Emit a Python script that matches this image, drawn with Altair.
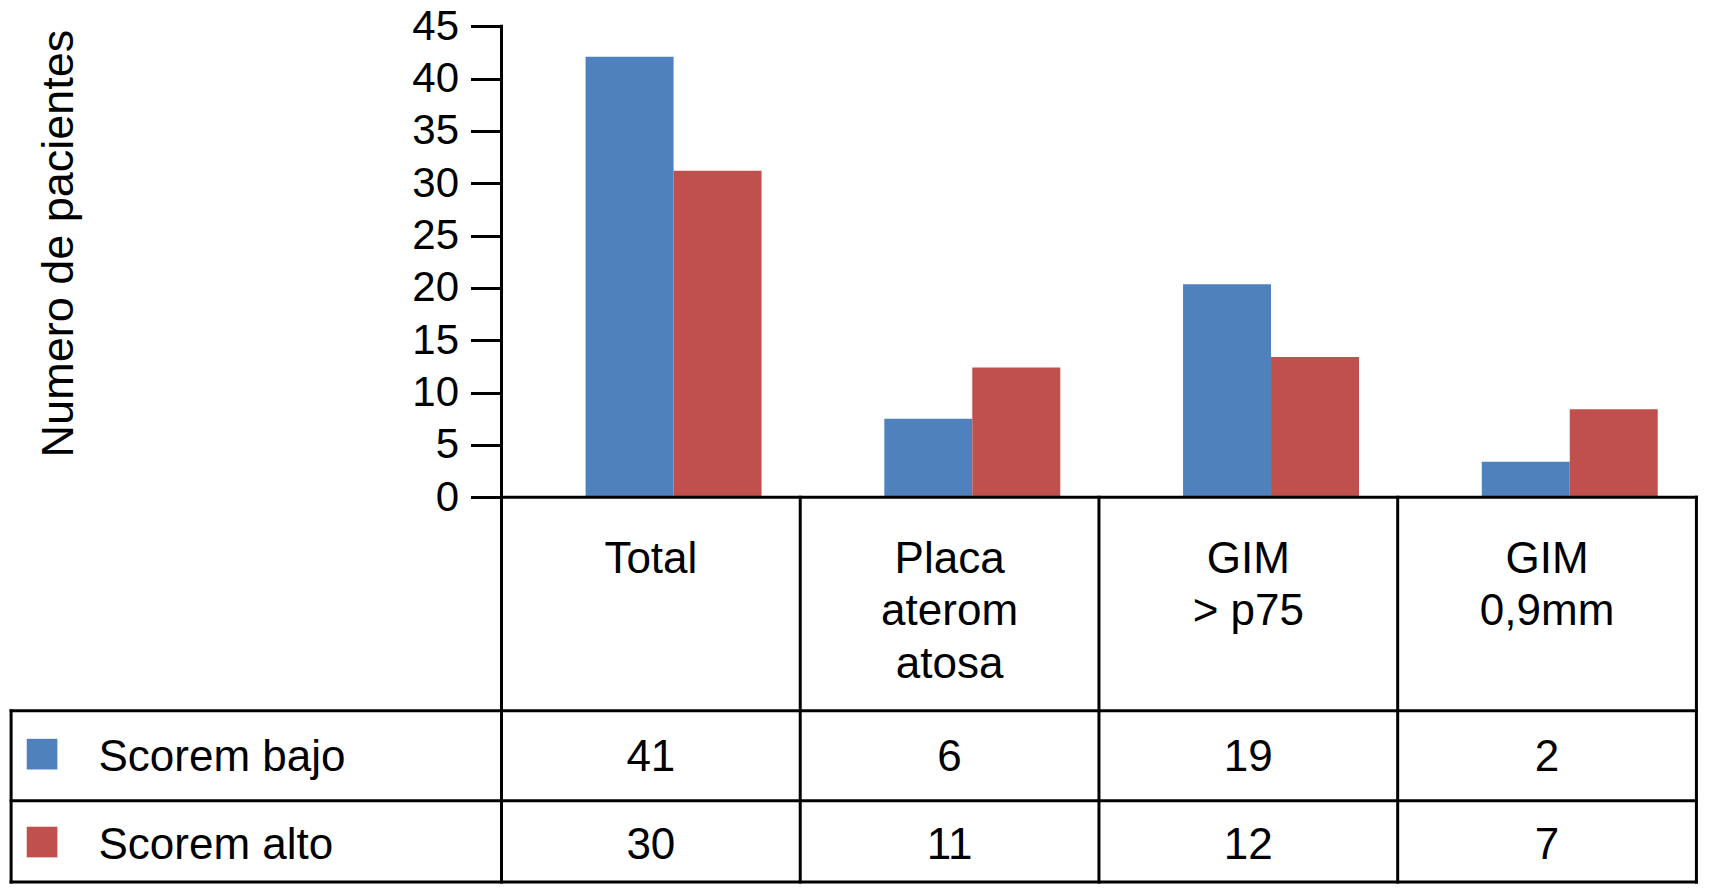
import altair as alt
import pandas as pd

# ---------------- data ----------------
CATEGORY_LINES = [["Total"], ["Placa", "aterom", "atosa"], ["GIM", "> p75"], ["GIM", "0,9mm"]]
SERIES = ["Scorem bajo", "Scorem alto"]
COLORS = ["#4F81BD", "#C0504D"]
BAR_BAJO = [42.1, 7.5, 20.35, 3.4]      # bar heights as drawn
BAR_ALTO = [31.2, 12.4, 13.4, 8.4]
TABLE_BAJO = [41, 6, 19, 2]              # numbers printed in the table
TABLE_ALTO = [30, 11, 12, 7]
Y_TICKS = [0, 5, 10, 15, 20, 25, 30, 35, 40, 45]
Y_TITLE = "Numero de pacientes"

# ---------------- layout (data units) ----------------
W, H = 1692, 874
PAD_TOP = 4
X_DOMAIN = [-2.152, 3.512]          # one unit = one table column
Y_DOMAIN = [-37.15, 46.37]          # value units, table lives below 0
BAR_SHIFT = 0.076
BAR_W = 0.2945
ROW_LINES = [-20.41, -29.0, -36.77]
LEFT_EDGE = -2.1416
HEADER_BASE = -7.20
LINE_STEP = 5.04
ROW_BASE = [-26.15, -34.55]
LEGEND_SQ_X = -2.038
LEGEND_TX_X = -1.849
FONT = "Liberation Sans"
FS = 44

n = len(CATEGORY_LINES)
px_per_x = W / (X_DOMAIN[1] - X_DOMAIN[0])
px_per_y = H / (Y_DOMAIN[1] - Y_DOMAIN[0])
axis_px = (-0.5 - X_DOMAIN[0]) * px_per_x

XS = alt.Scale(domain=X_DOMAIN, nice=False, zero=False)
YS = alt.Scale(domain=Y_DOMAIN, nice=False, zero=False)
Y_AX = alt.Axis(
    values=Y_TICKS, offset=-axis_px, domain=False, grid=False,
    tickSize=31, tickWidth=3, tickColor="black",
    labelFont=FONT, labelFontSize=42, labelColor="black", labelPadding=12,
    labelOverlap=False,
    title=Y_TITLE, titleFont=FONT, titleFontSize=45, titleFontWeight="normal",
    titleColor="black", titleAngle=270, titleAlign="center", titleBaseline="alphabetic",
    titleX=64 - axis_px, titleY=231,
)
COL = alt.Color("series:N", scale=alt.Scale(domain=SERIES, range=COLORS), legend=None)


def X(f):
    return alt.X(f, type="quantitative", scale=XS, axis=None)


def Y(f):
    return alt.Y(f, type="quantitative", scale=YS, axis=Y_AX)


# bars
bar_rows = []
for i in range(n):
    for s, vals in enumerate([BAR_BAJO, BAR_ALTO]):
        x0 = i + BAR_SHIFT - BAR_W + s * BAR_W
        bar_rows.append({"x": x0, "x2": x0 + BAR_W, "v": vals[i], "base": 0, "series": SERIES[s]})
bars = alt.Chart(pd.DataFrame(bar_rows)).mark_rect().encode(
    x=X("x"), x2=alt.X2("x2"), y=Y("v"), y2=alt.Y2("base"), color=COL
)

# table grid lines
lines = []
lines.append({"x": -0.5, "x2": n - 0.5, "y": 0, "y2": 0})
for r in ROW_LINES:
    lines.append({"x": LEFT_EDGE, "x2": n - 0.5, "y": r, "y2": r})
lines.append({"x": -0.5, "x2": -0.5, "y": Y_TICKS[-1], "y2": ROW_LINES[-1]})
for i in range(n):
    lines.append({"x": i + 0.5, "x2": i + 0.5, "y": 0, "y2": ROW_LINES[-1]})
lines.append({"x": LEFT_EDGE, "x2": LEFT_EDGE, "y": ROW_LINES[0], "y2": ROW_LINES[-1]})
grid = alt.Chart(pd.DataFrame(lines)).mark_rule(
    color="black", strokeWidth=3, strokeCap="square"
).encode(x=X("x"), x2=alt.X2("x2"), y=Y("y"), y2=alt.Y2("y2"))

# header labels
hdr = []
for i, ls in enumerate(CATEGORY_LINES):
    for j, t in enumerate(ls):
        hdr.append({"x": i, "y": HEADER_BASE - j * LINE_STEP, "t": t})
header = alt.Chart(pd.DataFrame(hdr)).mark_text(
    font=FONT, fontSize=FS, color="black", align="center", baseline="alphabetic"
).encode(x=X("x"), y=Y("y"), text="t:N")

# table values
vals = []
for s, arr in enumerate([TABLE_BAJO, TABLE_ALTO]):
    for i, v in enumerate(arr):
        vals.append({"x": i, "y": ROW_BASE[s], "t": str(v)})
values = alt.Chart(pd.DataFrame(vals)).mark_text(
    font=FONT, fontSize=FS, color="black", align="center", baseline="alphabetic"
).encode(x=X("x"), y=Y("y"), text="t:N")

# legend
leg = pd.DataFrame({
    "series": SERIES,
    "sx": [LEGEND_SQ_X] * 2,
    "tx": [LEGEND_TX_X] * 2,
    "y": ROW_BASE,
    "ym": [b + 1.6 for b in ROW_BASE],
})
leg_sq = alt.Chart(leg).mark_square(size=940, opacity=1, filled=True).encode(
    x=X("sx"), y=Y("ym"), color=COL
)
leg_tx = alt.Chart(leg).mark_text(
    font=FONT, fontSize=FS, color="black", align="left", baseline="alphabetic"
).encode(x=X("tx"), y=Y("y"), text="series:N")

chart = alt.layer(bars, grid, header, values, leg_sq, leg_tx).properties(
    width=W, height=H, autosize=alt.AutoSizeParams(type="none"),
    padding={"top": PAD_TOP, "left": 0, "right": 0, "bottom": 0},
).configure_view(stroke=None)

chart.save("out.html", embed_options={"renderer": "svg", "actions": False})
